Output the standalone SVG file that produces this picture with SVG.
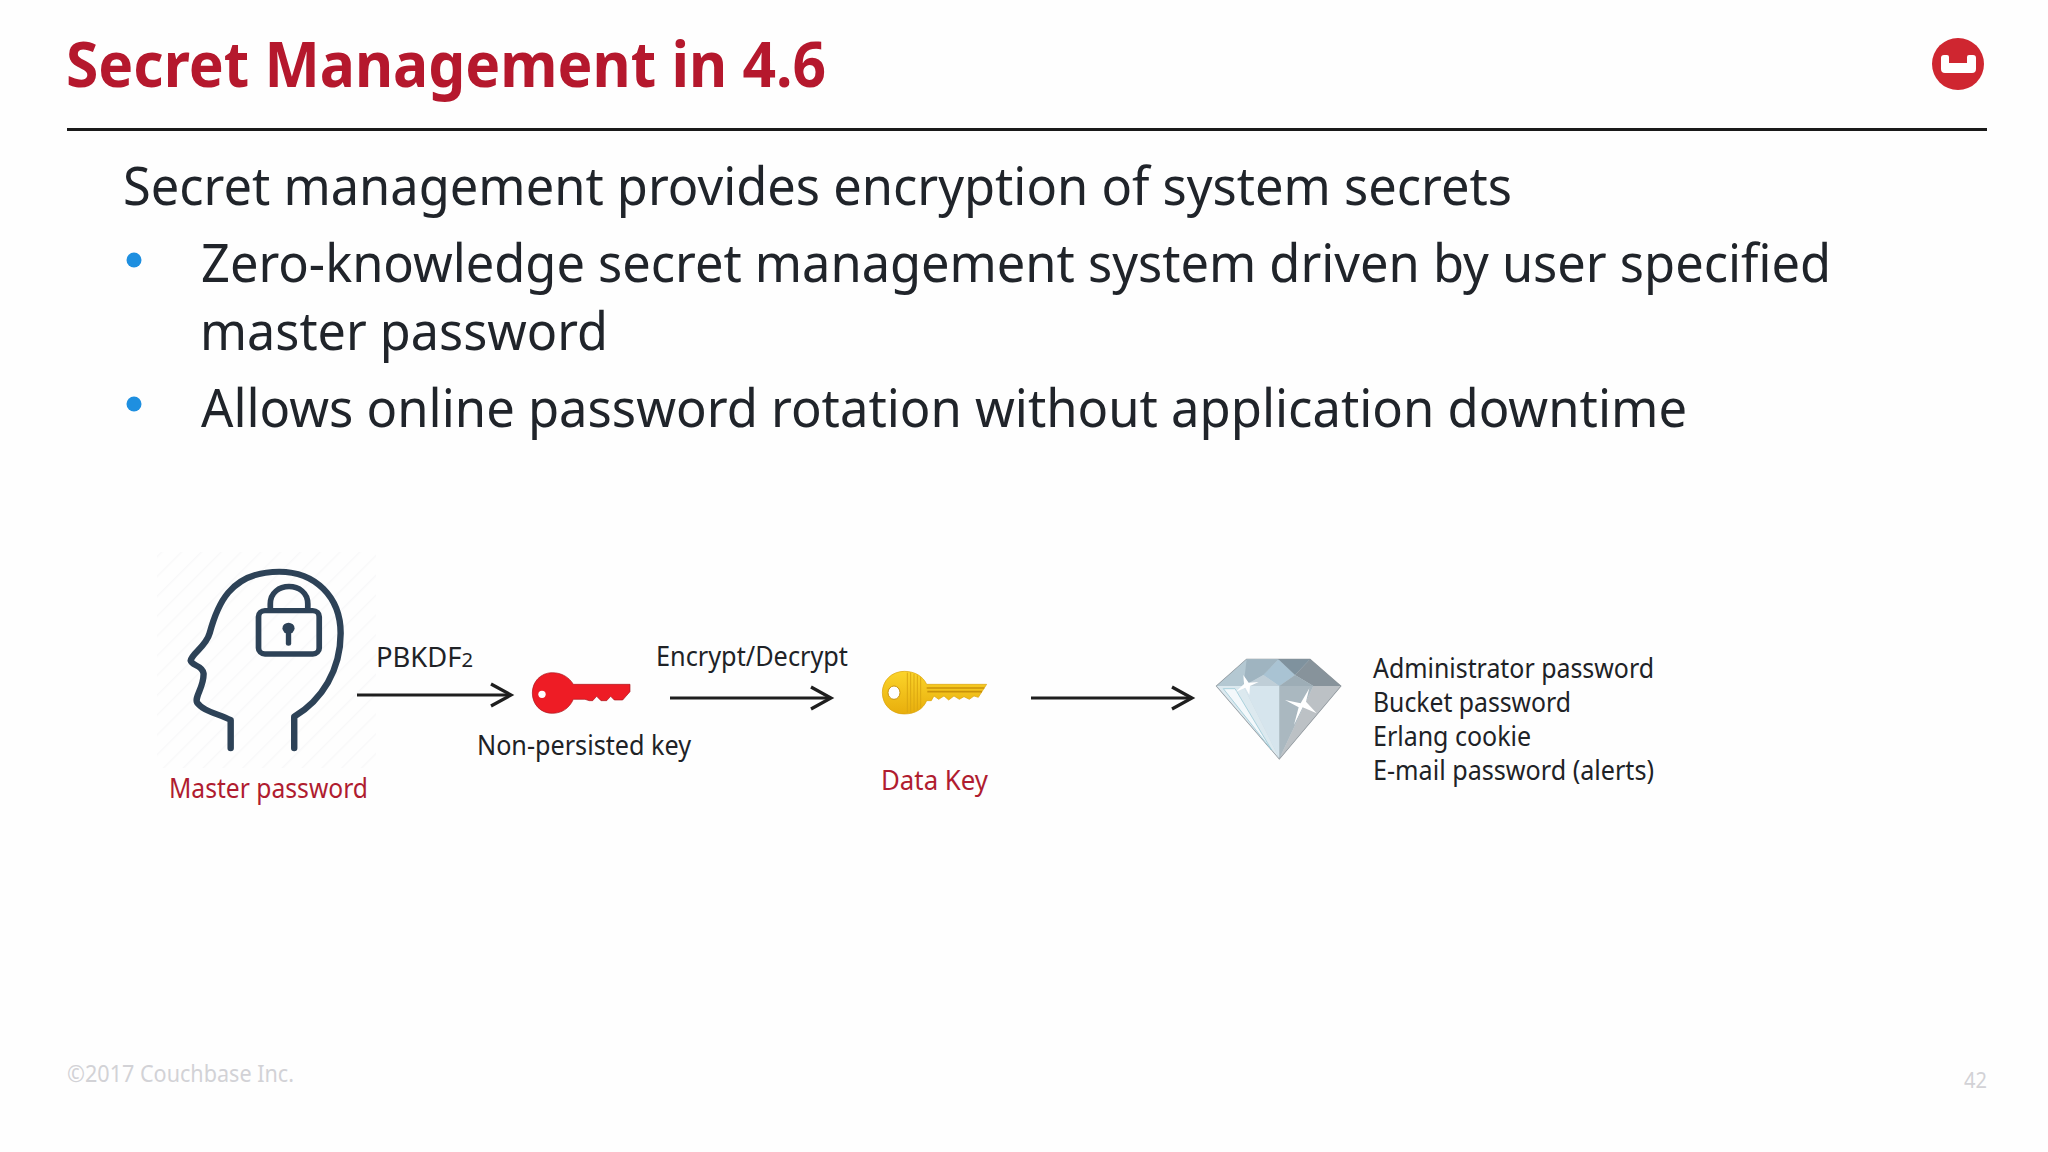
<svg xmlns="http://www.w3.org/2000/svg" width="2048" height="1152" viewBox="0 0 2048 1152">
<style>
text{font-family:"Noto Sans","Open Sans","Liberation Sans",sans-serif;}
.title{font-size:63px;font-weight:700;fill:#b5182d;}
.body{font-size:53px;fill:#20242a;}
.lab{font-size:27px;fill:#202226;}
.red{font-size:27px;fill:#b01c30;}
.foot{font-size:24px;fill:#d2d2d6;}
.conn{fill:none;stroke:#1e1e1e;stroke-width:3;}
.head{fill:none;stroke:#2d4257;stroke-width:18;stroke-linecap:round;stroke-linejoin:round;}
</style>
<defs>
<pattern id="hatch" width="14" height="14" patternUnits="userSpaceOnUse" patternTransform="rotate(-45)">
<line x1="0" y1="0" x2="14" y2="0" stroke="#f8f8f9" stroke-width="3"/>
</pattern>
<marker id="open" markerUnits="userSpaceOnUse" markerWidth="24" markerHeight="28" refX="20" refY="12" orient="auto" overflow="visible">
<path d="M0,1 L20,12 L0,23" fill="none" stroke="#1e1e1e" stroke-width="3.2"/>
</marker>
<linearGradient id="gold" x1="0" y1="0" x2="0" y2="1"><stop offset="0" stop-color="#fbd42a"/><stop offset="1" stop-color="#e8ae0c"/></linearGradient>
</defs>
<rect width="2048" height="1152" fill="#fefefe"/>
<g id="header">
<text class="title" x="66" y="87" textLength="760" lengthAdjust="spacingAndGlyphs">Secret Management in 4.6</text>
<rect x="67" y="128" width="1920" height="3" fill="#1a1a1a"/>
<g id="logo">
<circle cx="1958" cy="64" r="26" fill="#cf2630"/>
<path d="M1944,55 H1947 Q1949,55 1949,57 V63 H1967 V57 Q1967,55 1969,55 H1973 Q1976,55 1976,58 V69 Q1976,73 1972,73 H1945 Q1941,73 1941,69 V58 Q1941,55 1944,55 Z" fill="#fff"/>
</g>
</g>
<g id="bullets">
<text class="body" x="123" y="205" textLength="1389" lengthAdjust="spacingAndGlyphs">Secret management provides encryption of system secrets</text>
<circle cx="134" cy="260" r="7.5" fill="#1e8fe0"/>
<text class="body" x="201" y="282" textLength="1630" lengthAdjust="spacingAndGlyphs">Zero-knowledge secret management system driven by user specified</text>
<text class="body" x="200" y="350" textLength="408" lengthAdjust="spacingAndGlyphs">master password</text>
<circle cx="134" cy="404" r="7.5" fill="#1e8fe0"/>
<text class="body" x="201" y="427" textLength="1486" lengthAdjust="spacingAndGlyphs">Allows online password rotation without application downtime</text>
</g>
<g id="node-master-password">
<rect x="157" y="552" width="219" height="216" fill="url(#hatch)"/>
<g transform="translate(140,540) scale(.357,.3333)">
<path class="head" d="M254,625 V540 C215,520 175,512 160,488 C152,470 180,440 178,400 C175,375 145,378 142,362 C145,340 185,320 195,280 C215,200 250,95 390,95 C490,95 562,170 562,280 C562,390 510,480 432,530 V625"/>
<g fill="none" stroke="#2d4257" stroke-width="16" stroke-linejoin="round">
<rect x="332" y="212" width="170" height="130" rx="18"/>
<path d="M365,212 V192 C365,122 470,122 470,192 V212"/>
</g>
<circle cx="416" cy="265" r="17" fill="#2d4257"/>
<line x1="416" y1="270" x2="416" y2="310" stroke="#2d4257" stroke-width="15" stroke-linecap="round"/>
</g>
<text class="red" x="169" y="798" textLength="199" lengthAdjust="spacingAndGlyphs">Master password</text>
</g>
<g id="label-pbkdf2">
<text class="lab" x="376" y="667" textLength="97" lengthAdjust="spacingAndGlyphs">PBKDF<tspan font-size="20">2</tspan></text>
</g>
<g id="node-non-persisted-key">
<g transform="translate(520,660) scale(.3333)">
<path d="M97,38 C125,38 148,52 160,73 H330 V95 L308,120 H283 L272,109 L260,122 H243 L230,109 L218,122 H208 L195,118 H160 C148,145 125,160 97,160 C62,160 37,133 37,99 C37,65 62,38 97,38 Z" fill="#ee1c25" stroke="#a8141b" stroke-width="2"/>
<circle cx="66" cy="103" r="11" fill="#fff"/>
</g>
<text class="lab" x="477" y="755" textLength="214" lengthAdjust="spacingAndGlyphs">Non-persisted key</text>
</g>
<g id="label-encrypt">
<text class="lab" x="656" y="666" textLength="192" lengthAdjust="spacingAndGlyphs">Encrypt/Decrypt</text>
</g>
<g id="node-data-key">
<g transform="translate(870,660) scale(.3333)">
<path d="M103,34 C135,34 160,50 170,73 H350 L325,112 L312,108 L298,118 L282,110 L268,118 L252,108 L236,120 L222,108 L206,118 L192,108 L184,122 H170 C160,147 135,162 103,162 C65,162 37,135 37,98 C37,62 65,34 103,34 Z" fill="url(#gold)" stroke="#d9a20a" stroke-width="2"/>
<path d="M170,84 H343 M172,95 H336" stroke="#c9920a" stroke-width="5" fill="none"/>
<path d="M112,38 V158 M122,38 V158 M132,42 V154 M142,46 V150 M152,52 V144" stroke="#dba812" stroke-width="3" fill="none"/>
<ellipse cx="72" cy="98" rx="18" ry="20" fill="#fff" stroke="#c9920a" stroke-width="3"/>
</g>
<text class="red" x="881" y="790" textLength="107" lengthAdjust="spacingAndGlyphs">Data Key</text>
</g>
<g id="node-diamond">
<g transform="translate(1200,650) scale(.3333)">
<polygon points="50,108 140,28 330,28 422,108 238,326" fill="#c7d5dc" stroke="#8a9298" stroke-width="4"/>
<polygon points="140,28 235,28 190,75 130,110 50,108" fill="#b4c8d2"/>
<polygon points="235,28 285,75 238,108 190,75" fill="#a9c3d3"/>
<polygon points="140,28 235,28 190,75 130,110" fill="#9fb4c0"/>
<polygon points="235,28 330,28 285,75" fill="#7f929e"/>
<polygon points="285,75 330,28 422,108 340,108" fill="#87939b"/>
<polygon points="238,108 285,75 340,108" fill="#9dadb6"/>
<polygon points="130,108 190,75 238,108" fill="#bfced7"/>
<polygon points="130,108 238,108 238,326" fill="#d6e5ed"/>
<polygon points="238,108 340,108 238,326" fill="#aab8c0"/>
<polygon points="340,108 422,108 238,326" fill="#bcc1c5"/>
<polygon points="50,108 130,108 238,326" fill="#dce9ef"/>
<polygon points="70,116 105,116 215,300" fill="#f3f8fb" stroke="#8cc1d0" stroke-width="2"/>
<polygon points="130,75 146,98 176,96 150,108 148,135 136,113 108,125 132,102" fill="#fff"/>
<polygon points="328,115 318,155 350,190 308,172 282,225 296,172 255,150 302,160" fill="#fff"/>
</g>
</g>
<g id="node-secrets">
<text class="lab" x="1373" y="678" textLength="281" lengthAdjust="spacingAndGlyphs">Administrator password</text>
<text class="lab" x="1373" y="712" textLength="198" lengthAdjust="spacingAndGlyphs">Bucket password</text>
<text class="lab" x="1373" y="746" textLength="158" lengthAdjust="spacingAndGlyphs">Erlang cookie</text>
<text class="lab" x="1373" y="780" textLength="281" lengthAdjust="spacingAndGlyphs">E-mail password (alerts)</text>
</g>
<g id="footer">
<text class="foot" x="67" y="1082" textLength="227" lengthAdjust="spacingAndGlyphs">©2017 Couchbase Inc.</text>
<text class="foot" x="1964" y="1088" style="font-size:21px" textLength="23" lengthAdjust="spacingAndGlyphs">42</text>
</g>
<g id="connectors">
<line class="conn" x1="357" y1="695" x2="511" y2="695" marker-end="url(#open)"/>
<line class="conn" x1="670" y1="698" x2="831" y2="698" marker-end="url(#open)"/>
<line class="conn" x1="1031" y1="698" x2="1192" y2="698" marker-end="url(#open)"/>
</g>
</svg>
